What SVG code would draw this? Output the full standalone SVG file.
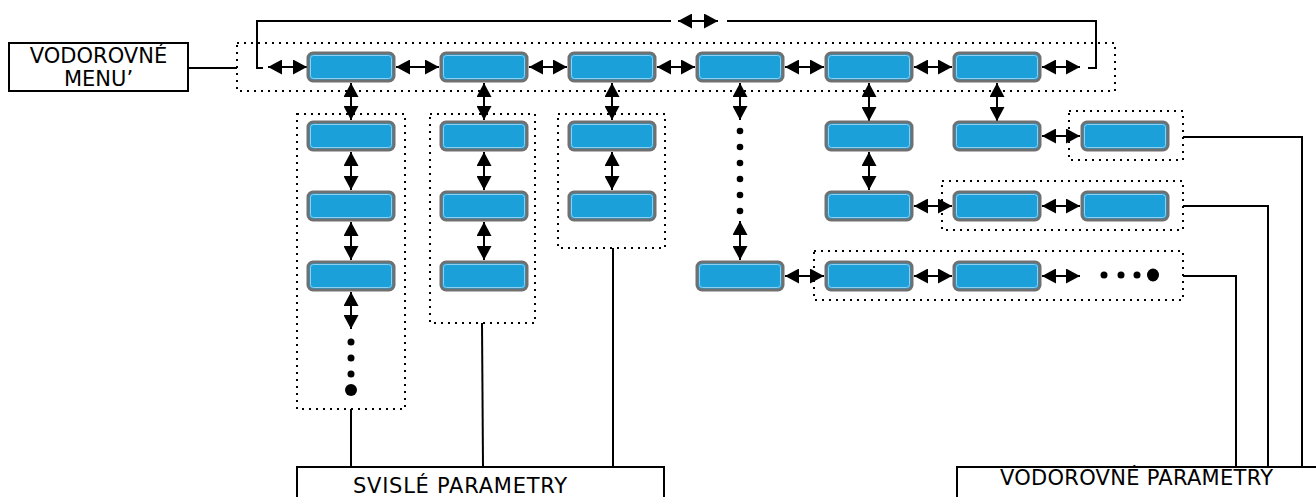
<svg xmlns="http://www.w3.org/2000/svg" width="1316" height="497" viewBox="0 0 1316 497">
  <style>
    .nd { fill: #1ca0da; stroke: #707070; stroke-width: 3; }
    .ndi { fill: none; stroke: #8fd0f0; stroke-width: 1; }
    .dot { fill: none; stroke: #000; stroke-width: 2; stroke-dasharray: 2 5; }
    .ln { fill: none; stroke: #000; stroke-width: 2; }
    .ar { fill: none; stroke: #000; stroke-width: 2; marker-start: url(#ah); marker-end: url(#ah); }
    .box { fill: #fff; stroke: #000; stroke-width: 2; }
    .tx { font-family: "DejaVu Sans", "Liberation Sans", sans-serif; font-size: 21px; fill: #000; }
  </style>
  <defs>
    <marker id="ah" viewBox="0 0 14 15" markerWidth="14" markerHeight="15" refX="14" refY="7.5" orient="auto-start-reverse" markerUnits="userSpaceOnUse">
      <path d="M0,0 L14,7.5 L0,15 z" fill="#000"/>
    </marker>
    <g id="node">
      <rect class="nd" x="0" y="0" width="86" height="28" rx="5"/>
      <rect class="ndi" x="2.5" y="2.5" width="81" height="23" rx="3"/>
    </g>
  </defs>

  <!-- label boxes -->
  <g id="label-vodorovne-menu">
    <rect class="box" x="9" y="43" width="179" height="48"/>
    <text class="tx" x="98.5" y="63" text-anchor="middle">VODOROVNÉ</text>
    <text class="tx" x="98.5" y="86" text-anchor="middle">MENU’</text>
  </g>
  <g id="label-svisle">
    <rect class="box" x="297" y="467" width="367" height="40"/>
    <text class="tx" x="353" y="493" textLength="214">SVISLÉ PARAMETRY</text>
  </g>
  <g id="label-vodorovne-param">
    <rect class="box" x="957" y="467" width="370" height="40"/>
    <text class="tx" x="1000" y="485" textLength="273">VODOROVNÉ PARAMETRY</text>
  </g>

  <!-- dotted groupings -->
  <g id="groups">
    <rect class="dot" x="237" y="43" width="878" height="48"/>
    <rect class="dot" x="297" y="114" width="108" height="295"/>
    <rect class="dot" x="430" y="114" width="105" height="209"/>
    <rect class="dot" x="558" y="114" width="107" height="134"/>
    <rect class="dot" x="1069" y="111" width="114" height="49"/>
    <rect class="dot" x="942" y="181" width="241" height="49"/>
    <rect class="dot" x="814" y="251" width="369" height="49"/>
  </g>

  <!-- connectors -->
  <g id="connectors">
    <!-- top bracket -->
    <polyline class="ln" points="263,68 257,68 257,21 671,21"/>
    <polyline class="ln" points="727,21 1096,21 1096,68 1088,68"/>
    <line class="ar" x1="678" y1="21" x2="718" y2="21"/>
    <line class="ln" x1="188" y1="68" x2="237" y2="68"/>

    <!-- top row horizontal -->
    <line class="ar" x1="268" y1="67" x2="307" y2="67"/>
    <line class="ar" x1="396" y1="67" x2="439" y2="67"/>
    <line class="ar" x1="529" y1="67" x2="567" y2="67"/>
    <line class="ar" x1="657" y1="67" x2="695" y2="67"/>
    <line class="ar" x1="785" y1="67" x2="824" y2="67"/>
    <line class="ar" x1="914" y1="67" x2="952" y2="67"/>
    <line class="ar" x1="1042" y1="67" x2="1080" y2="67"/>

    <!-- top row to columns -->
    <line class="ar" x1="351" y1="83" x2="351" y2="120"/>
    <line class="ar" x1="484" y1="83" x2="484" y2="120"/>
    <line class="ar" x1="612" y1="83" x2="612" y2="120"/>
    <line class="ar" x1="740" y1="83" x2="740" y2="120"/>
    <line class="ar" x1="869" y1="83" x2="869" y2="121"/>
    <line class="ar" x1="997" y1="83" x2="997" y2="121"/>

    <!-- column 1 -->
    <line class="ar" x1="351" y1="152" x2="351" y2="190"/>
    <line class="ar" x1="351" y1="222" x2="351" y2="260"/>
    <line class="ar" x1="351" y1="292" x2="351" y2="329"/>
    <!-- column 2 -->
    <line class="ar" x1="484" y1="152" x2="484" y2="190"/>
    <line class="ar" x1="484" y1="222" x2="484" y2="260"/>
    <!-- column 3 -->
    <line class="ar" x1="612" y1="152" x2="612" y2="190"/>
    <!-- column 4 -->
    <line class="ar" x1="740" y1="221" x2="740" y2="260"/>
    <!-- column 5 -->
    <line class="ar" x1="869" y1="152" x2="869" y2="190"/>

    <!-- right horizontal rows -->
    <line class="ar" x1="1042" y1="136" x2="1080" y2="136"/>
    <line class="ar" x1="914" y1="206" x2="952" y2="206"/>
    <line class="ar" x1="1042" y1="206" x2="1080" y2="206"/>
    <line class="ar" x1="785" y1="276" x2="824" y2="276"/>
    <line class="ar" x1="914" y1="276" x2="952" y2="276"/>
    <line class="ar" x1="1042" y1="276" x2="1080" y2="276"/>

    <!-- lines to label boxes -->
    <line class="ln" x1="351" y1="409" x2="351" y2="467"/>
    <line class="ln" x1="482" y1="323" x2="483" y2="467"/>
    <line class="ln" x1="613" y1="248" x2="613" y2="467"/>
    <polyline class="ln" points="1183,137 1302,137 1302,467"/>
    <polyline class="ln" points="1183,206 1268,206 1268,467"/>
    <polyline class="ln" points="1183,276 1236,276 1236,467"/>
  </g>

  <!-- ellipsis dots -->
  <g id="dots">
    <circle cx="351" cy="342" r="3.5"/>
    <circle cx="351" cy="358" r="3.5"/>
    <circle cx="351" cy="374" r="3.5"/>
    <circle cx="351" cy="390" r="6"/>
    <circle cx="740" cy="131" r="3.3"/>
    <circle cx="740" cy="147" r="3.3"/>
    <circle cx="740" cy="163" r="3.3"/>
    <circle cx="740" cy="179" r="3.3"/>
    <circle cx="740" cy="195" r="3.3"/>
    <circle cx="740" cy="211" r="3.3"/>
    <circle cx="1104" cy="275" r="3.5"/>
    <circle cx="1121" cy="275" r="3.5"/>
    <circle cx="1137" cy="275" r="3.5"/>
    <ellipse cx="1153" cy="275" rx="6" ry="6.5"/>
  </g>

  <!-- nodes -->
  <g id="n-top1"><use href="#node" x="308" y="53"/></g>
  <g id="n-top2"><use href="#node" x="441" y="53"/></g>
  <g id="n-top3"><use href="#node" x="569" y="53"/></g>
  <g id="n-top4"><use href="#node" x="697" y="53"/></g>
  <g id="n-top5"><use href="#node" x="826" y="53"/></g>
  <g id="n-top6"><use href="#node" x="954" y="53"/></g>

  <g id="n-c1-1"><use href="#node" x="308" y="122"/></g>
  <g id="n-c1-2"><use href="#node" x="308" y="192"/></g>
  <g id="n-c1-3"><use href="#node" x="308" y="262"/></g>
  <g id="n-c2-1"><use href="#node" x="441" y="122"/></g>
  <g id="n-c2-2"><use href="#node" x="441" y="192"/></g>
  <g id="n-c2-3"><use href="#node" x="441" y="262"/></g>
  <g id="n-c3-1"><use href="#node" x="569" y="122"/></g>
  <g id="n-c3-2"><use href="#node" x="569" y="192"/></g>
  <g id="n-c4-1"><use href="#node" x="697" y="262"/></g>
  <g id="n-c5-1"><use href="#node" x="826" y="122"/></g>
  <g id="n-c5-2"><use href="#node" x="826" y="192"/></g>
  <g id="n-c6-1"><use href="#node" x="954" y="122"/></g>

  <g id="n-r1-1"><use href="#node" x="1082" y="122"/></g>
  <g id="n-r2-1"><use href="#node" x="954" y="192"/></g>
  <g id="n-r2-2"><use href="#node" x="1082" y="192"/></g>
  <g id="n-r3-1"><use href="#node" x="826" y="262"/></g>
  <g id="n-r3-2"><use href="#node" x="954" y="262"/></g>
</svg>
